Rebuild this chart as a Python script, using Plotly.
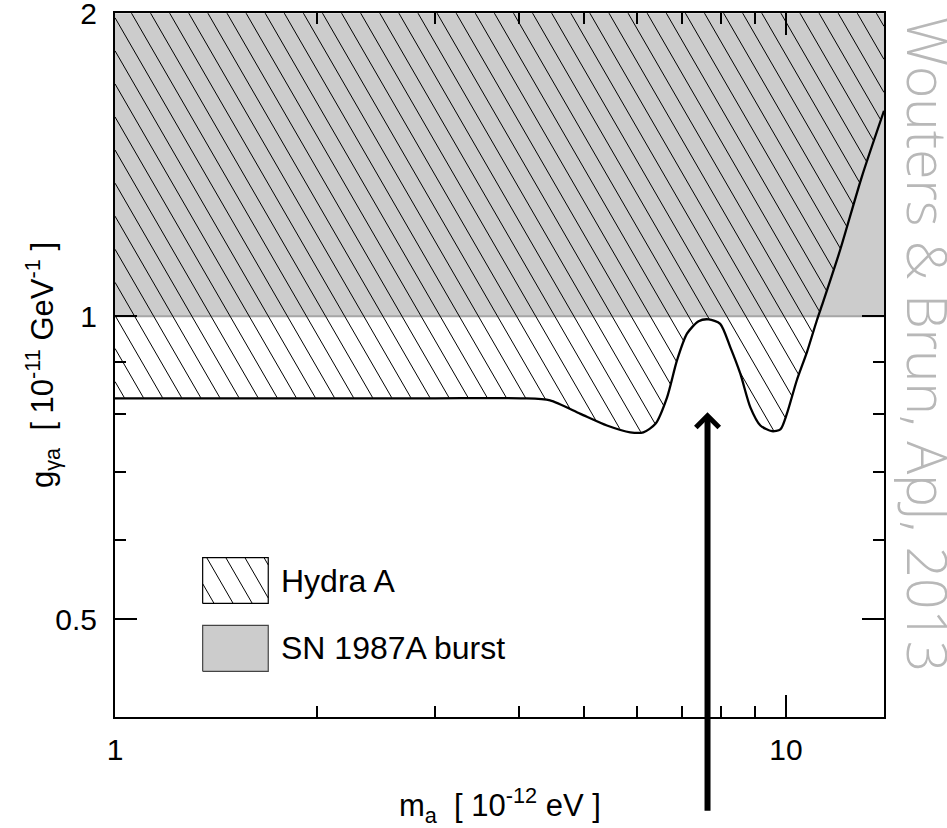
import numpy as np
import plotly.graph_objects as go

# ---------------- data ----------------
mass = [1.0, 2.0, 3.0, 4.06, 4.45, 4.94, 5.41, 5.86, 6.13, 6.39, 6.65, 6.88,
        7.12, 7.41, 7.67, 7.98, 8.26, 8.55, 8.85, 9.16, 9.53, 9.81, 10.03,
        10.38, 10.75, 11.12, 11.38, 12.04, 12.97, 14.0]
g_hydra = [0.829, 0.829, 0.829, 0.829, 0.825, 0.800, 0.779, 0.767, 0.767,
           0.782, 0.831, 0.904, 0.961, 0.989, 0.993, 0.983, 0.932, 0.877,
           0.812, 0.779, 0.769, 0.772, 0.800, 0.864, 0.922, 0.991, 1.037,
           1.163, 1.375, 1.60]
sn_limit = 1.0
x_range = [1.0, 14.0]
y_range = [0.4, 2.0]
arrow_mass = 7.64
arrow_g = 0.803
x_ticks = [1, 10]
x_ticktext = ["1", "10"]
x_minor = [2, 3, 4, 5, 6, 7, 8, 9]
y_ticks = [0.5, 1, 2]
y_ticktext = ["0.5", "1", "2"]
y_minor = [0.6, 0.7, 0.8, 0.9]
legend_names = ["Hydra A", "SN 1987A burst"]
legend_x = [1.351, 1.692]
legend_y_hydra = [0.5186, 0.576]
legend_y_sn = [0.444, 0.4932]
legend_text_x = 1.755

# ---------------- layout geometry ----------------
FW, FH = 947, 828
ML, MR, MT, MB = 115, 63, 13, 111
PW = FW - ML - MR
PH = FH - MT - MB
lx0, lx1 = np.log10(x_range[0]), np.log10(x_range[1])
ly0, ly1 = np.log10(y_range[0]), np.log10(y_range[1])
EPS = 2e-4


def px(x):
    return ML + (np.log10(x) - lx0) / (lx1 - lx0) * PW


def py(y):
    return MT + (ly1 - np.log10(y)) / (ly1 - ly0) * PH


def inv_x(u):
    return 10 ** (lx0 + (u - ML) / PW * (lx1 - lx0))


def inv_y(v):
    return 10 ** (ly1 - (v - MT) / PH * (ly1 - ly0))


def hatch(region, u_lo, u_hi, v_lo, v_hi, spacing, phase, angle_deg=60.0):
    cot = 1.0 / np.tan(np.radians(angle_deg))
    v = np.arange(v_lo, v_hi + 0.125, 0.125)
    kmin = -int(np.ceil((v_hi - v_lo) * cot / spacing)) - 2
    kmax = int(np.ceil((u_hi - u_lo) / spacing)) + 2
    xs, ys = [], []
    for k in range(kmin, kmax + 1):
        u0 = u_lo + phase + k * spacing
        u = u0 + (v - v_lo) * cot
        m = region(u, v)
        if not m.any():
            continue
        d = np.diff(np.concatenate([[0], m.astype(int), [0]]))
        starts = np.where(d == 1)[0]
        ends = np.where(d == -1)[0] - 1
        for s, e in zip(starts, ends):
            if e <= s:
                continue
            xs += [inv_x(u[s]), inv_x(u[e]), None]
            ys += [inv_y(v[s]), inv_y(v[e]), None]
    return xs, ys


cu = px(np.array(mass))
cv = py(np.array(g_hydra))


def hydra_region(u, v):
    return (u >= ML) & (u <= ML + PW) & (v <= np.interp(u, cu, cv) - 0.5)


hx, hy = hatch(hydra_region, ML, ML + PW, MT, MT + PH, 19.1, 16.5)

bu0, bu1 = px(legend_x[0]), px(legend_x[1])
bv0, bv1 = py(legend_y_hydra[1]), py(legend_y_hydra[0])


def box_region(u, v):
    return (u >= bu0) & (u <= bu1) & (v >= bv0) & (v <= bv1)


lhx, lhy = hatch(box_region, bu0, bu1, bv0, bv1, 19.1, 4.0)

fig = go.Figure()

# SN 1987A excluded region
fig.add_trace(go.Scatter(
    x=[x_range[0], x_range[1], x_range[1], x_range[0]],
    y=[sn_limit, sn_limit, y_range[1], y_range[1]],
    fill="toself", fillcolor="#cccccc", line=dict(width=0),
    mode="lines", hoverinfo="skip", showlegend=False))
fig.add_trace(go.Scatter(
    x=x_range, y=[sn_limit, sn_limit], mode="lines",
    line=dict(color="#a6a6a6", width=2), hoverinfo="skip", showlegend=False))

# Hydra A hatch
fig.add_trace(go.Scatter(x=hx, y=hy, mode="lines",
                         line=dict(color="black", width=1),
                         hoverinfo="skip", showlegend=False))
# Hydra A boundary
fig.add_trace(go.Scatter(x=mass, y=g_hydra, mode="lines",
                         line=dict(color="black", width=2.3, shape="spline", smoothing=0.7),
                         showlegend=False))

# custom legend
fig.add_trace(go.Scatter(x=lhx, y=lhy, mode="lines",
                         line=dict(color="black", width=1),
                         hoverinfo="skip", showlegend=False))
fig.add_trace(go.Scatter(
    x=[legend_x[0], legend_x[1], legend_x[1], legend_x[0], legend_x[0]],
    y=[legend_y_hydra[0], legend_y_hydra[0], legend_y_hydra[1], legend_y_hydra[1], legend_y_hydra[0]],
    mode="lines", line=dict(color="black", width=1.2),
    hoverinfo="skip", showlegend=False))
fig.add_trace(go.Scatter(
    x=[legend_x[0], legend_x[1], legend_x[1], legend_x[0], legend_x[0]],
    y=[legend_y_sn[0], legend_y_sn[0], legend_y_sn[1], legend_y_sn[1], legend_y_sn[0]],
    fill="toself", fillcolor="#cccccc", mode="lines",
    line=dict(color="#444444", width=1.2),
    hoverinfo="skip", showlegend=False))

FONT = "Liberation Sans, Arial, sans-serif"
annotations = [
    dict(x=np.log10(legend_text_x), y=np.log10(np.sqrt(legend_y_hydra[0] * legend_y_hydra[1])),
         xref="x", yref="y", text=legend_names[0], showarrow=False,
         xanchor="left", yanchor="middle", font=dict(size=32, color="black", family=FONT)),
    dict(x=np.log10(legend_text_x), y=np.log10(np.sqrt(legend_y_sn[0] * legend_y_sn[1])),
         xref="x", yref="y", text=legend_names[1], showarrow=False,
         xanchor="left", yanchor="middle", font=dict(size=32, color="black", family=FONT)),
    # arrow
    dict(x=np.log10(arrow_mass), y=np.log10(arrow_g), xref="x", yref="y",
         ax=0, ay=400, axref="pixel", ayref="pixel", text="", showarrow=True,
         arrowhead=4, arrowsize=0.75, arrowwidth=6, arrowcolor="black"),
    # axis titles
    dict(x=0.5, y=-(805 - (FH - MB)) / PH, xref="paper", yref="paper",
         text="m<sub>a</sub>\u00a0\u00a0[ 10<sup>-12</sup> eV ]", showarrow=False,
         xanchor="center", yanchor="middle", font=dict(size=31, color="black", family=FONT)),
    dict(x=-(ML - 42) / PW, y=0.5, xref="paper", yref="paper",
         text="g<sub>\u03b3a</sub>\u00a0\u00a0[ 10<sup>-11</sup> GeV<sup>-1</sup> ]",
         showarrow=False, textangle=-90,
         xanchor="center", yanchor="middle", font=dict(size=31, color="black", family=FONT)),
    # watermark
    dict(x=(929 - ML) / PW, y=(FH - MB - 344) / PH, xref="paper", yref="paper",
         text="Wouters &amp; Brun, ApJ, 2013", showarrow=False, textangle=90,
         xanchor="center", yanchor="middle",
         font=dict(size=55, color="#b8b8b8", family="Open Sans, sans-serif", weight=300)),
]

axis_common = dict(type="log", showline=True, linecolor="black", linewidth=2,
                   mirror="ticks", ticks="inside", ticklen=22, tickwidth=1.5,
                   tickcolor="black", showgrid=False, zeroline=False,
                   ticklabeloverflow="allow", automargin=False,
                   tickfont=dict(size=30, color="black", family=FONT))

fig.update_layout(
    width=FW, height=FH,
    margin=dict(l=ML, r=MR, t=MT, b=MB, autoexpand=False),
    paper_bgcolor="white", plot_bgcolor="white",
    showlegend=False,
    annotations=annotations,
    xaxis=dict(**axis_common, range=[lx0, lx1], tickmode="array",
               tickvals=x_ticks, ticktext=x_ticktext, ticklabelstandoff=5,
               minor=dict(tickmode="array", tickvals=x_minor, ticks="inside",
                          ticklen=11, tickwidth=1.5, tickcolor="black")),
    yaxis=dict(**axis_common, range=[ly0, ly1 + EPS], tickmode="array",
               tickvals=y_ticks, ticktext=y_ticktext, ticklabelstandoff=10,
               minor=dict(tickmode="array", tickvals=y_minor, ticks="inside",
                          ticklen=11, tickwidth=1.5, tickcolor="black")),
)

fig.write_html("out.html")
